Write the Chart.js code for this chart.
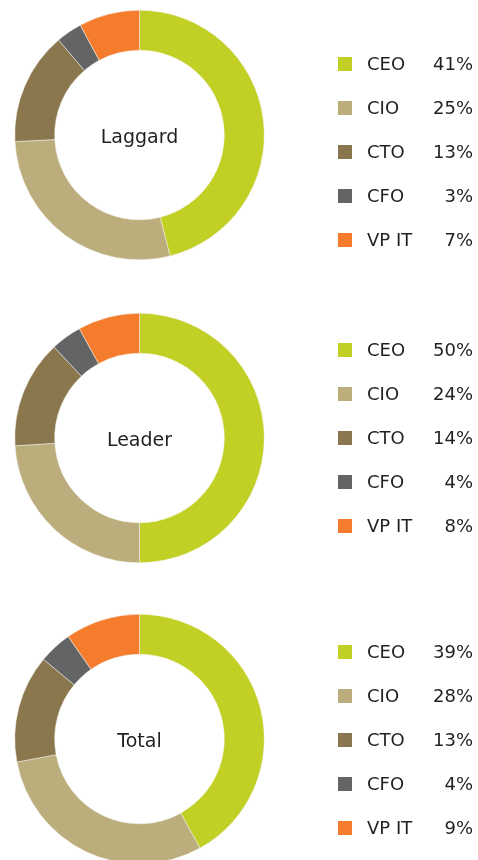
<!DOCTYPE html>
<html>
<head>
<meta charset="utf-8">
<script src="https://cdn.jsdelivr.net/npm/chart.js@4.4.0/dist/chart.umd.min.js"></script>
<style>
  html, body { margin: 0; padding: 0; background: #fff; }
  body { width: 478px; height: 860px; overflow: hidden; position: relative; }
  .panel { position: absolute; left: 0; width: 478px; height: 290px; }
</style>
</head>
<body>
<div class="panel" style="top:-10px"><canvas id="laggard"></canvas></div>
<div class="panel" style="top:293px"><canvas id="leader"></canvas></div>
<div class="panel" style="top:594px"><canvas id="total"></canvas></div>

<script>
// roles and shares (percent)
const roles = ['CEO', 'CIO', 'CTO', 'CFO', 'VP IT'];
const laggardShares = [41, 25, 13, 3, 7];
const leaderShares = [50, 24, 14, 4, 8];
const totalShares = [39, 28, 13, 4, 9];

const roleColors = ['#c2cf24', '#bcad7d', '#8b774d', '#636466', '#f47c2c'];
const textColor = '#231f20';

// draws the centre label and the legend table on the right
const sideLegend = {
  id: 'sideLegend',
  afterDraw(chart, args, opts) {
    const ctx = chart.ctx;
    const arc = chart.getDatasetMeta(0).data[0];
    const cx = arc.x, cy = arc.y;
    ctx.save();
    ctx.fillStyle = textColor;
    ctx.font = '19px "DejaVu Sans"';
    ctx.textAlign = 'center';
    ctx.textBaseline = 'middle';
    ctx.fillText(opts.title, cx, cy + 3);

    const values = chart.data.datasets[0].data;
    ctx.font = '18px "DejaVu Sans"';
    ctx.textBaseline = 'middle';
    chart.data.labels.forEach((lbl, i) => {
      const y = cy + opts.firstRow + i * 44;
      ctx.fillStyle = roleColors[i];
      ctx.fillRect(338, y - 7, 14, 14);
      ctx.fillStyle = textColor;
      ctx.textAlign = 'left';
      ctx.fillText(lbl, 367, y + 1);
      ctx.textAlign = 'right';
      ctx.fillText(values[i] + '%', 473, y + 1);
    });
    ctx.restore();
  }
};

function makeDonut(id, title, shares, firstRow) {
  return new Chart(document.getElementById(id), {
    type: 'doughnut',
    data: {
      labels: roles,
      datasets: [{
        data: shares,
        backgroundColor: roleColors,
        borderColor: '#f4f4ee',
        borderWidth: 0.5
      }]
    },
    options: {
      responsive: true,
      maintainAspectRatio: false,
      animation: false,
      cutout: '68%',
      layout: { padding: { left: 14.5, right: 213.5, top: 20, bottom: 20 } },
      plugins: {
        legend: { display: false },
        tooltip: { enabled: false },
        sideLegend: { title: title, firstRow: firstRow }
      }
    },
    plugins: [sideLegend]
  });
}

makeDonut('laggard', 'Laggard', laggardShares, -71);
makeDonut('leader', 'Leader', leaderShares, -88);
makeDonut('total', 'Total', totalShares, -87);
</script>
</body>
</html>
